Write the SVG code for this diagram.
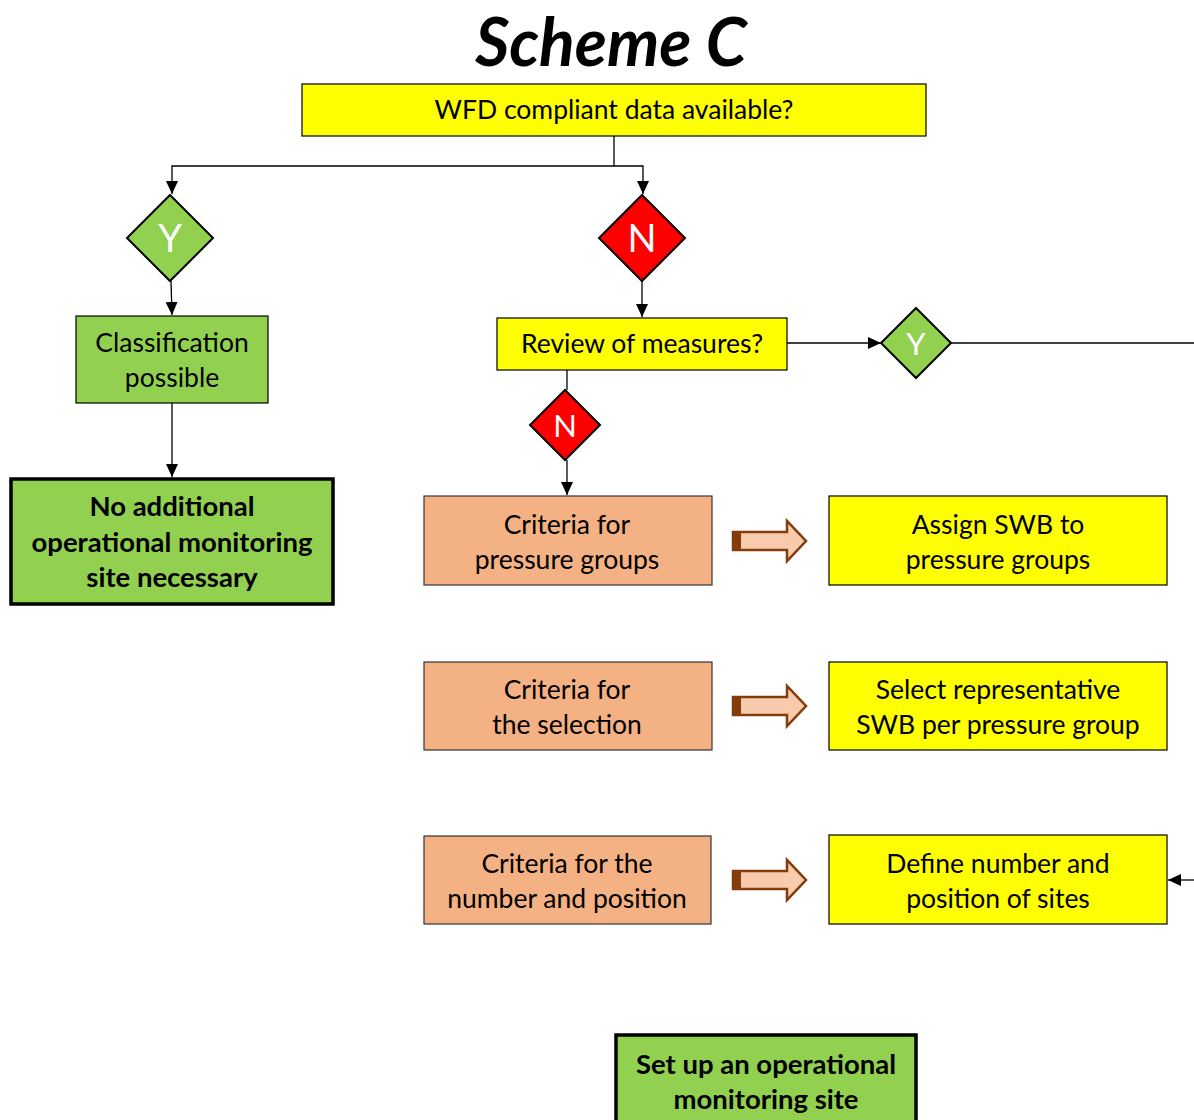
<svg xmlns="http://www.w3.org/2000/svg" width="1194" height="1120" viewBox="0 0 1194 1120">
<defs>
<marker id="ah" viewBox="0 0 10 10" refX="10" refY="5" markerWidth="13" markerHeight="12" markerUnits="userSpaceOnUse" orient="auto" preserveAspectRatio="none"><path d="M0,0 L10,5 L0,10 z" fill="#000"/></marker>
<g id="blk">
<path d="M0,-9 H54 V-20 L73,0 L54,20 V9 H0 Z" fill="#F8CBAD" stroke="#843C0C" stroke-width="2.5" stroke-linejoin="miter"/>
<rect x="0" y="-9" width="8" height="18" fill="#843C0C"/>
</g>
</defs>
<style>
text{font-family:Lato,"Open Sans","Liberation Sans",sans-serif;text-anchor:middle;fill:#000}
.t{font-size:26.5px}
.b{font-size:27.5px;font-weight:bold}
.d{font-size:38px;fill:#fff}
.y{fill:#FFFF00;stroke:#000;stroke-width:1.2}
.g{fill:#92D050;stroke:#000;stroke-width:1.2}
.gb{fill:#92D050;stroke:#000;stroke-width:3.5}
.s{fill:#F4B183;stroke:#333;stroke-width:1.2}
.gd{fill:#92D050;stroke:#000;stroke-width:2}
.rd{fill:#FF0000;stroke:#000;stroke-width:2}
.c{fill:none;stroke:#000;stroke-width:1.3}
</style>
<rect width="1194" height="1120" fill="#fff"/>
<text x="611" y="66" style="font-size:66px;font-weight:bold;font-style:italic">Scheme C</text>

<g id="connectors">
<path class="c" d="M614,136 V166 H172 V194" marker-end="url(#ah)"/>
<path class="c" d="M614,166 H643 V194" marker-end="url(#ah)"/>
<path class="c" d="M171,281 L172,315" marker-end="url(#ah)"/>
<path class="c" d="M172,403 L172,477" marker-end="url(#ah)"/>
<path class="c" d="M642,281 V317" marker-end="url(#ah)"/>
<path class="c" d="M787,343 H881" marker-end="url(#ah)"/>
<path class="c" d="M951,343 H1194"/>
<path class="c" d="M567,370 V390"/>
<path class="c" d="M567,460 V495" marker-end="url(#ah)"/>
<path class="c" d="M1194,880 H1168" marker-end="url(#ah)"/>
<use href="#blk" x="733" y="541"/>
<use href="#blk" x="733" y="706"/>
<use href="#blk" x="733" y="880"/>
</g>

<g id="n-wfd"><rect class="y" x="302" y="84" width="624" height="52"/><text class="t" x="614" y="119">WFD compliant data available?</text></g>
<g id="n-y1"><path class="gd" d="M170,195 L213,238 L170,281 L127,238 Z"/><text class="d" x="170" y="252">Y</text></g>
<g id="n-n1"><path class="rd" d="M642,195 L685,238 L642,281 L599,238 Z"/><text class="d" x="642" y="252">N</text></g>
<g id="n-class"><rect class="g" x="76" y="316" width="192" height="87"/><text class="t" x="172" y="352">Classification</text><text class="t" x="172" y="387">possible</text></g>
<g id="n-noadd"><rect class="gb" x="11" y="479" width="322" height="125"/><text class="b" x="172" y="516">No additional</text><text class="b" x="172" y="552">operational monitoring</text><text class="b" x="172" y="587">site necessary</text></g>
<g id="n-review"><rect class="y" x="497" y="318" width="290" height="52"/><text class="t" x="642" y="353">Review of measures?</text></g>
<g id="n-y2"><path class="gd" d="M916,308 L951,343 L916,378 L881,343 Z"/><text class="d" x="916" y="355" style="font-size:31px">Y</text></g>
<g id="n-n2"><path class="rd" d="M565,390 L600,425 L565,460 L530,425 Z"/><text class="d" x="565" y="437" style="font-size:31px">N</text></g>
<g id="n-crit1"><rect class="s" x="424" y="496" width="288" height="89"/><text class="t" x="567" y="534">Criteria for</text><text class="t" x="567" y="569">pressure groups</text></g>
<g id="n-crit2"><rect class="s" x="424" y="662" width="288" height="88"/><text class="t" x="567" y="699">Criteria for</text><text class="t" x="567" y="734">the selection</text></g>
<g id="n-crit3"><rect class="s" x="424" y="836" width="287" height="88"/><text class="t" x="567" y="873">Criteria for the</text><text class="t" x="567" y="908">number and position</text></g>
<g id="n-assign"><rect class="y" x="829" y="496" width="338" height="89"/><text class="t" x="998" y="534">Assign SWB to</text><text class="t" x="998" y="569">pressure groups</text></g>
<g id="n-select"><rect class="y" x="829" y="662" width="338" height="88"/><text class="t" x="998" y="699">Select representative</text><text class="t" x="998" y="734">SWB per pressure group</text></g>
<g id="n-define"><rect class="y" x="829" y="835" width="338" height="89"/><text class="t" x="998" y="873">Define number and</text><text class="t" x="998" y="908">position of sites</text></g>
<g id="n-setup"><rect class="gb" x="616" y="1035" width="300" height="95"/><text class="b" x="766" y="1074">Set up an operational</text><text class="b" x="766" y="1109">monitoring site</text></g>
</svg>
